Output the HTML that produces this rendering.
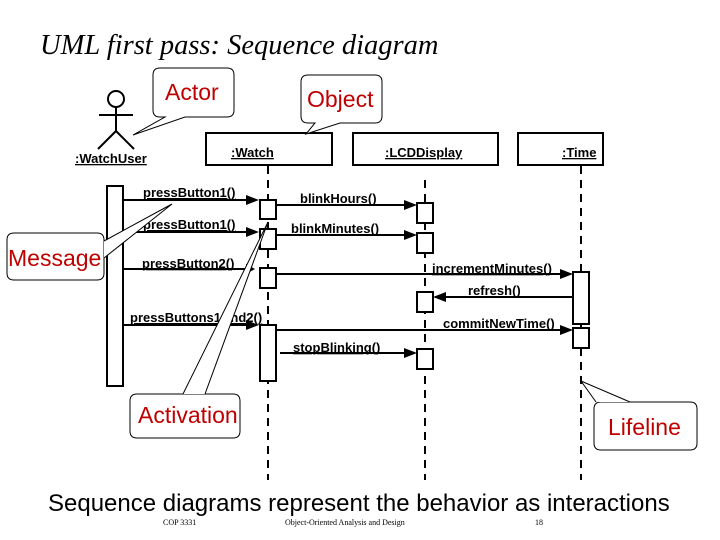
<!DOCTYPE html>
<html><head><style>body{margin:0;background:#fff}svg{display:block}</style></head><body>
<svg width="720" height="540" xmlns="http://www.w3.org/2000/svg" font-family="Liberation Sans, sans-serif">
<text x="40" y="54" font-family="Liberation Serif, serif" font-style="italic" font-size="28.5">UML first pass: Sequence diagram</text>
<g stroke="#000" stroke-width="2" fill="none">
<circle cx="116" cy="99" r="8"/>
<line x1="116" y1="107" x2="116" y2="132"/><line x1="99" y1="115" x2="133" y2="115"/>
<line x1="116" y1="131" x2="98" y2="149"/><line x1="116" y1="131" x2="134" y2="149"/>
<rect x="206" y="133" width="126" height="32"/>
<rect x="353" y="133" width="145" height="32"/>
<rect x="518" y="133" width="85" height="32"/>
<g stroke-dasharray="8,6"><line x1="268" y1="166" x2="268" y2="480"/><line x1="425" y1="180" x2="425" y2="480"/><line x1="581" y1="166" x2="581" y2="480"/></g>
</g>
<g stroke="#000" stroke-width="2" fill="#fff">
<rect x="107" y="186" width="16" height="200"/>
<rect x="260" y="200" width="16" height="19"/><rect x="260" y="229" width="16" height="20"/><rect x="260" y="268" width="16" height="20"/><rect x="260" y="325" width="16" height="56"/>
<rect x="417" y="203" width="16" height="20"/><rect x="417" y="233" width="16" height="20"/><rect x="417" y="292" width="16" height="20"/><rect x="417" y="349" width="16" height="20"/>
<rect x="573" y="272" width="16" height="52"/><rect x="573" y="328" width="16" height="20"/>
</g>
<g stroke="#000" stroke-width="2">
<line x1="123" y1="200" x2="250" y2="200"/><line x1="123" y1="232" x2="250" y2="232"/><line x1="123" y1="269" x2="250" y2="269"/><line x1="123" y1="325" x2="250" y2="325"/>
<line x1="276" y1="205" x2="408" y2="205"/><line x1="276" y1="235" x2="408" y2="235"/><line x1="276" y1="274" x2="564" y2="274"/><line x1="573" y1="297" x2="442" y2="297"/><line x1="276" y1="330" x2="564" y2="330"/><line x1="280" y1="353" x2="408" y2="353"/>
</g>
<g fill="#000">
<polygon points="259,200 246,195 246,205"/><polygon points="259,232 246,227 246,237"/><polygon points="255,269 246,264 246,274"/><polygon points="259,325 246,320 246,330"/>
<polygon points="417,205 404,200 404,210"/><polygon points="417,235 404,230 404,240"/><polygon points="573,274 560,269 560,279"/><polygon points="433,297 446,292 446,302"/><polygon points="573,330 560,325 560,335"/><polygon points="417,353 404,348 404,358"/>
</g>
<g font-size="13" font-weight="bold" text-decoration="underline" fill="#000">
<text x="75" y="163">:WatchUser</text><text x="231" y="157">:Watch</text><text x="385" y="157">:LCDDisplay</text><text x="562" y="157">:Time</text>
<text x="143" y="197">pressButton1()</text><text x="143" y="229">pressButton1()</text><text x="142" y="268">pressButton2()</text><text x="130" y="322">pressButtons1And2()</text>
<text x="300" y="203">blinkHours()</text><text x="291" y="233">blinkMinutes()</text><text x="432" y="273">incrementMinutes()</text><text x="468" y="295">refresh()</text><text x="443" y="328">commitNewTime()</text><text x="293" y="352">stopBlinking()</text>
</g>
<g stroke="#000" stroke-width="1" fill="#fff">
<path d="M160,68 H227 Q234,68 234,75 V110 Q234,117 227,117 H185 L133,135 L165,117 H160 Q153,117 153,110 V75 Q153,68 160,68Z"/>
<path d="M308,75 H375 Q382,75 382,82 V116 Q382,123 375,123 H340 L306,134 L315,123 H308 Q301,123 301,116 V82 Q301,75 308,75Z"/>
<path d="M14,233 H97 Q104,233 104,240 V273 Q104,280 97,280 H14 Q7,280 7,273 V240 Q7,233 14,233Z"/>
<path d="M104,241 L172,204 L104,258"/>
<path d="M137,394 H233 Q240,394 240,401 V431 Q240,438 233,438 H137 Q130,438 130,431 V401 Q130,394 137,394Z"/>
<path d="M183,394 L268,222 L205,394"/>
<path d="M601,402 H690 Q697,402 697,409 V443 Q697,450 690,450 H601 Q594,450 594,443 V409 Q594,402 601,402Z"/>
<path d="M596,402 L581,381 L630,402"/>
</g>
<g fill="#c00000" font-size="23">
<text x="165" y="100">Actor</text><text x="307" y="107">Object</text><text x="8" y="266">Message</text><text x="138" y="423">Activation</text><text x="608" y="435">Lifeline</text>
</g>
<text x="48" y="511" font-size="24">Sequence diagrams represent the behavior as interactions</text>
<g font-family="Liberation Serif, serif" font-size="8"><text x="163" y="525">COP 3331</text><text x="285" y="525">Object-Oriented Analysis and Design</text><text x="535" y="525">18</text></g>
</svg>
</body></html>
